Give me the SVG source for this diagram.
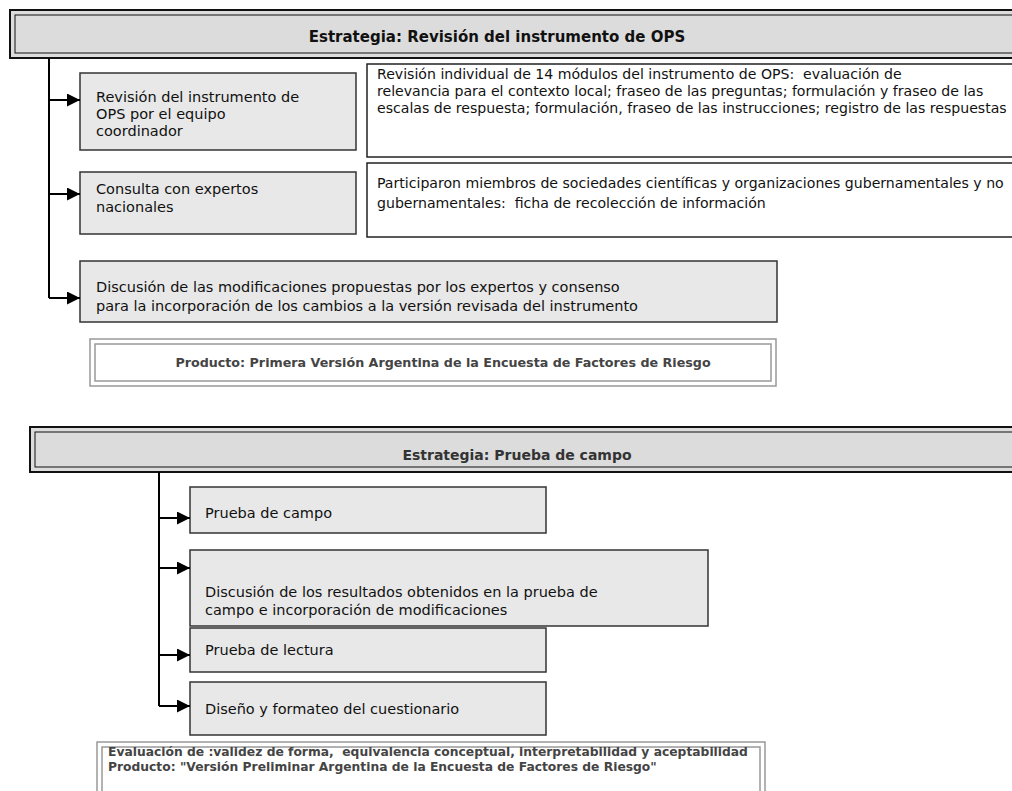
<svg xmlns="http://www.w3.org/2000/svg" width="1012" height="791" viewBox="0 0 1012 791">
<defs>
<style>
text{white-space:pre}
.t{font-family:"DejaVu Sans","Liberation Sans",sans-serif;font-size:14.5px;fill:#111}
.n{font-family:"DejaVu Sans","Liberation Sans",sans-serif;font-size:14.1px;fill:#111}
.hd{font-family:"DejaVu Sans","Liberation Sans",sans-serif;font-size:15px;font-weight:bold;fill:#111}
.hd2{font-family:"DejaVu Sans","Liberation Sans",sans-serif;font-size:14px;font-weight:bold;fill:#333}
.pr{font-family:"DejaVu Sans","Liberation Sans",sans-serif;font-size:12.7px;font-weight:bold;fill:#444}
.pr2{font-family:"DejaVu Sans","Liberation Sans",sans-serif;font-size:12.3px;font-weight:bold;fill:#444}
.box{fill:#e8e8e8;stroke:#333;stroke-width:1.5}
.wbox{fill:#fff;stroke:#222;stroke-width:1.5}
.hdr{fill:#dcdcdc;stroke:#111;stroke-width:2}
.hdri{fill:none;stroke:#111;stroke-width:1}
.pbo{fill:#fff;stroke:#999;stroke-width:1.5}
.pbi{fill:none;stroke:#999;stroke-width:1.5}
.ln{fill:none;stroke:#000;stroke-width:2}
</style>
<marker id="ah" markerWidth="13" markerHeight="13" refX="13" refY="6.5" orient="auto" markerUnits="userSpaceOnUse">
<path d="M0,0 L13,6.5 L0,13 Z" fill="#000"/>
</marker>
</defs>
<rect width="1012" height="791" fill="#fff"/>

<g id="header1">
<rect class="hdr" x="10" y="10" width="1010" height="48"/>
<rect class="hdri" x="15" y="15" width="1000" height="38"/>
<text class="hd" x="497" y="42" text-anchor="middle">Estrategia: Revisión del instrumento de OPS</text>
</g>

<g id="box1">
<rect class="box" x="80" y="73" width="276" height="77"/>
<text class="t" x="96" y="102">Revisión del instrumento de</text>
<text class="t" x="96" y="119">OPS por el equipo</text>
<text class="t" x="96" y="136">coordinador</text>
</g>

<g id="note1">
<rect class="wbox" x="367" y="64" width="660" height="93"/>
<text class="n" x="377" y="79">Revisión individual de 14 módulos del instrumento de OPS:  evaluación de</text>
<text class="n" x="377" y="96">relevancia para el contexto local; fraseo de las preguntas; formulación y fraseo de las</text>
<text class="n" x="377" y="113">escalas de respuesta; formulación, fraseo de las instrucciones; registro de las respuestas</text>
</g>

<g id="box2">
<rect class="box" x="80" y="172" width="276" height="62"/>
<text class="t" x="96" y="194">Consulta con expertos</text>
<text class="t" x="96" y="212">nacionales</text>
</g>

<g id="note2">
<rect class="wbox" x="367" y="163" width="660" height="74"/>
<text class="n" x="377" y="188">Participaron miembros de sociedades científicas y organizaciones gubernamentales y no</text>
<text class="n" x="377" y="208">gubernamentales:  ficha de recolección de información</text>
</g>

<g id="box3">
<rect class="box" x="80" y="261" width="697" height="61"/>
<text class="t" x="96" y="292">Discusión de las modificaciones propuestas por los expertos y consenso</text>
<text class="t" x="96" y="311">para la incorporación de los cambios a la versión revisada del instrumento</text>
</g>

<g id="product1">
<rect class="pbo" x="90" y="339" width="686" height="47"/>
<rect class="pbi" x="95" y="344" width="676" height="37"/>
<text class="pr" x="443" y="367" text-anchor="middle">Producto: Primera Versión Argentina de la Encuesta de Factores de Riesgo</text>
</g>

<g id="header2">
<rect class="hdr" x="30" y="427" width="990" height="45"/>
<rect class="hdri" x="35" y="432" width="980" height="35"/>
<text class="hd2" x="517" y="460" text-anchor="middle">Estrategia: Prueba de campo</text>
</g>

<g id="boxA">
<rect class="box" x="190" y="487" width="356" height="46"/>
<text class="t" x="205" y="518">Prueba de campo</text>
</g>

<g id="boxB">
<rect class="box" x="190" y="550" width="518" height="76"/>
<text class="t" x="205" y="597">Discusión de los resultados obtenidos en la prueba de</text>
<text class="t" x="205" y="615">campo e incorporación de modificaciones</text>
</g>

<g id="boxC">
<rect class="box" x="190" y="628" width="356" height="44"/>
<text class="t" x="205" y="655">Prueba de lectura</text>
</g>

<g id="boxD">
<rect class="box" x="190" y="682" width="356" height="53"/>
<text class="t" x="205" y="714">Diseño y formateo del cuestionario</text>
</g>

<g id="product2">
<rect class="pbo" x="97" y="742" width="668" height="60"/>
<rect class="pbi" x="102" y="747" width="658" height="50"/>
<text class="pr2" x="108" y="756">Evaluación de :validez de forma,  equivalencia conceptual, interpretabilidad y aceptabilidad</text>
<text class="pr2" x="108" y="771">Producto: "Versión Preliminar Argentina de la Encuesta de Factores de Riesgo"</text>
</g>

<g id="connectors">
<path class="ln" d="M49,58 V298"/>
<path class="ln" d="M49,100 H80" marker-end="url(#ah)"/>
<path class="ln" d="M49,194 H80" marker-end="url(#ah)"/>
<path class="ln" d="M49,298 H80" marker-end="url(#ah)"/>
<path class="ln" d="M159,472 V706"/>
<path class="ln" d="M159,518 H190" marker-end="url(#ah)"/>
<path class="ln" d="M159,568 H190" marker-end="url(#ah)"/>
<path class="ln" d="M159,655 H190" marker-end="url(#ah)"/>
<path class="ln" d="M159,706 H190" marker-end="url(#ah)"/>
</g>
</svg>
